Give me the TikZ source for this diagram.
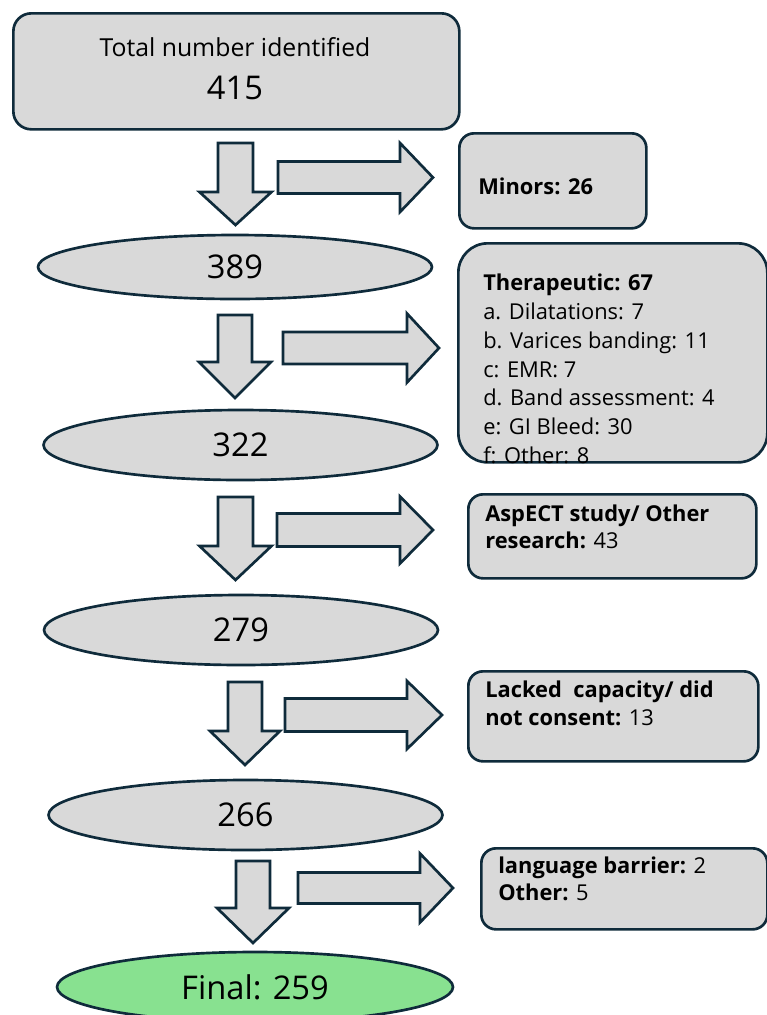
\documentclass[tikz,border=0pt]{standalone}
\usepackage{fontspec}
\setmainfont{Open Sans}
\usetikzlibrary{shapes.geometric}
\definecolor{edgecol}{HTML}{0F2B3B}
\definecolor{boxfill}{HTML}{D9D9D9}
\definecolor{finalfill}{HTML}{88E190}
\newcommand\sidefont{\fontsize{16.4}{19}\selectfont}
\newcommand\bignumfont{\fontsize{24.5}{29}\selectfont}
\newcommand\titlefont{\fontsize{18.6}{22}\selectfont}
% down block arrow: cx, top, shaft bottom, tip, shaft half width, head half width
\newcommand\DArrow[6]{%
  \draw[blockarrow] (#1-#5,#2) -- (#1+#5,#2) -- (#1+#5,#3) -- (#1+#6,#3) -- (#1,#4)
    -- (#1-#6,#3) -- (#1-#5,#3) -- cycle;}
% right block arrow: left, head start, tip, cy, shaft half height, head half height
\newcommand\RArrow[6]{%
  \draw[blockarrow] (#1,#4-#5) -- (#2,#4-#5) -- (#2,#4-#6) -- (#3,#4) -- (#2,#4+#6)
    -- (#2,#4+#5) -- (#1,#4+#5) -- cycle;}
\begin{document}
\begin{tikzpicture}[x=0.75pt,y=-0.75pt,
  shapebox/.style={draw=edgecol, fill=boxfill, line width=2pt, rounded corners=#1,
    anchor=north west, inner sep=0pt},
  shapebox/.default=11pt,
  oval/.style={ellipse, draw=edgecol, fill=boxfill, line width=2pt, inner sep=0pt,
    minimum width=295.5pt, font=\bignumfont},
  blockarrow/.style={draw=edgecol, fill=boxfill, line width=2pt, line join=miter},
  lbl/.style={anchor=base west, inner sep=0pt, font=\sidefont},
]
\useasboundingbox (0,0) rectangle (767,1015);

% top box
\node[shapebox=13.5pt, minimum width=334.5pt, minimum height=87pt] (top) at (12,12) {};
\node[anchor=base, inner sep=0pt, font=\titlefont] (toptitle) at (235,56.6) {Total number identified};
\node[inner sep=0pt, font=\bignumfont] (topnum) at (235,88) {415};

% side boxes
\node[shapebox, minimum width=140.25pt, minimum height=71.25pt] (minors) at (458,132) {};
\node[lbl] (minorsT) at (478,194) {\bfseries Minors: 26};

\node[shapebox=22pt, minimum width=231.75pt, minimum height=164.25pt] (ther) at (457,242) {};
\node[lbl] (ther0) at (483,290) {\bfseries Therapeutic: 67};
\node[lbl] (ther1) at (483,319) {a. Dilatations: 7};
\node[lbl] (ther2) at (483,348) {b. Varices banding: 11};
\node[lbl] (ther3) at (483,377) {c: EMR: 7};
\node[lbl] (ther4) at (483,405) {d. Band assessment: 4};
\node[lbl] (ther5) at (483,434) {e: GI Bleed: 30};
\node[lbl] (ther6) at (483,463) {f: Other: 8};

\node[shapebox, minimum width=216pt, minimum height=63pt] (asp) at (467,493) {};
\node[lbl] (asp1) at (485,521.5) {\bfseries AspECT study/ Other};
\node[lbl] (asp2) at (485,548) {\textbf{research:} 43};

\node[shapebox, minimum width=217.5pt, minimum height=67.5pt] (lack) at (467,670) {};
\node[lbl] (lack1) at (485,697) {\bfseries Lacked~ capacity/ did};
\node[lbl] (lack2) at (485,725) {\textbf{not consent:} 13};

\node[shapebox, minimum width=214.5pt, minimum height=60.75pt] (lang) at (480,847) {};
\node[lbl] (lang1) at (498,873) {\textbf{language barrier:} 2};
\node[lbl] (lang2) at (498,900) {\textbf{Other:} 5};

% ovals
\node[oval, minimum height=48pt] (n389) at (235,267) {389};
\node[oval, minimum height=52.5pt] (n322) at (240.5,445) {322};
\node[oval, minimum height=52.5pt] (n279) at (241,630) {279};
\node[oval, minimum height=52.5pt] (n266) at (245.5,815) {266};
\node[oval, fill=finalfill, minimum width=297pt, minimum height=52.5pt] (final) at (255,987) {Final: 259};

% block arrows
\DArrow{235.5}{143}{192}{225}{17.5}{36}
\DArrow{235}{315}{362}{398}{17}{36}
\DArrow{235.5}{497}{546}{580}{17.5}{36}
\DArrow{245}{682}{731}{765}{17}{35}
\DArrow{253}{861}{908}{943}{17}{36}

\RArrow{278}{400}{433}{177.5}{16}{34.5}
\RArrow{283}{407}{439}{348}{16}{34.5}
\RArrow{277}{400}{433}{530}{16.5}{33.5}
\RArrow{285}{407}{442}{715}{16.5}{34}
\RArrow{298}{420}{453}{888}{15.5}{34.5}
\end{tikzpicture}
\end{document}
